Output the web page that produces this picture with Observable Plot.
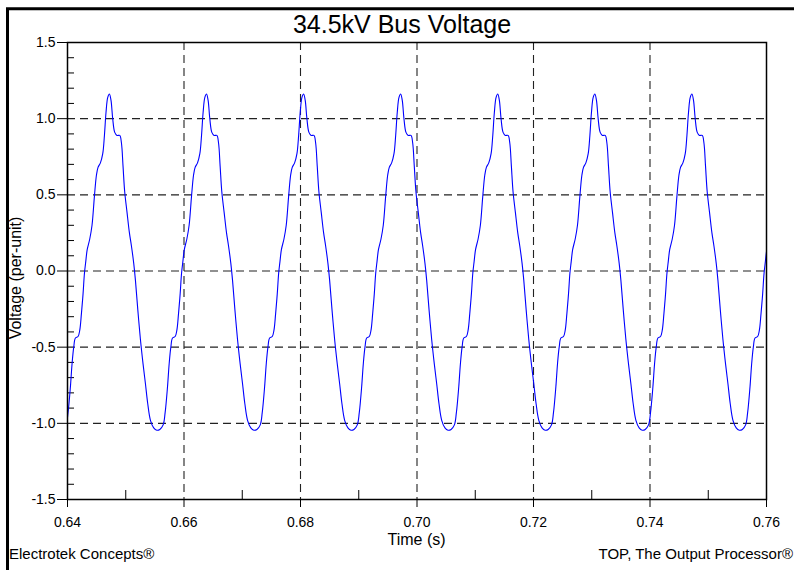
<!DOCTYPE html>
<html>
<head>
<meta charset="utf-8">
<script src="https://cdn.jsdelivr.net/npm/d3@7"></script>
<script src="https://cdn.jsdelivr.net/npm/@observablehq/plot@0.6"></script>
<style>
  html, body { margin: 0; padding: 0; background: #fff; overflow: hidden; }
  #chart { position: relative; width: 794px; height: 570px; }
</style>
</head>
<body>
<div id="chart"></div>
<script>
// ---- Data ----
// Times (s) of the successive waveform minima (60 Hz cycles)
const cycleStartTimes = [0.63918, 0.65585, 0.67252, 0.68918, 0.70585, 0.72252, 0.73918, 0.75585];
// One cycle of the distorted waveform: time after the minimum (ms) and voltage (per-unit)
const phaseMs = [0, 0.57, 0.91, 1.32, 1.60, 1.89, 2.18, 2.63, 2.92, 3.21,
                 3.49, 3.73, 3.95, 4.20, 4.64, 5.03, 5.44, 5.79, 6.06, 6.47,
                 6.87, 7.16, 7.43, 7.73, 8.02, 8.29, 8.58, 8.93, 9.32, 9.79,
                 10.08, 10.35, 10.64, 11.04, 11.45, 11.79, 12.19, 12.48, 12.88, 13.34,
                 13.79, 14.20, 14.59, 15.06, 15.62, 16.15];
const voltagePU = [-1.04, -1.01, -0.93, -0.76, -0.61, -0.50, -0.44, -0.43, -0.39, -0.28,
                   -0.15, -0.015, 0.06, 0.14, 0.21, 0.30, 0.49, 0.63, 0.68, 0.71,
                   0.77, 0.89, 1.04, 1.14, 1.162, 1.12, 1.00, 0.91, 0.89, 0.89,
                   0.84, 0.69, 0.52, 0.385, 0.25, 0.166, 0.05, -0.06, -0.25, -0.45,
                   -0.61, -0.74, -0.87, -0.98, -1.03, -1.045];

const xTicks = [0.64, 0.66, 0.68, 0.70, 0.72, 0.74, 0.76];
const xTickLabels = ["0.64", "0.66", "0.68", "0.70", "0.72", "0.74", "0.76"];
const xMinor = [0.65, 0.67, 0.69, 0.71, 0.73, 0.75];
const xGrid = [0.66, 0.68, 0.70, 0.72, 0.74];
const yTicks = [-1.5, -1.0, -0.5, 0, 0.5, 1.0, 1.5];
const yTickLabels = ["-1.5", "-1.0", "-0.5", "0.0", "0.5", "1.0", "1.5"];
const yMinor = [-1.4, -1.3, -1.2, -1.1, -0.9, -0.8, -0.7, -0.6, -0.4, -0.3, -0.2, -0.1,
                0.1, 0.2, 0.3, 0.4, 0.6, 0.7, 0.8, 0.9, 1.1, 1.2, 1.3, 1.4];
const yGrid = [-1.0, -0.5, 0, 0.5, 1.0];

const titleText = "34.5kV Bus Voltage";
const xLabel = "Time (s)";
const yLabel = "Voltage (per-unit)";
const footLeft = "Electrotek Concepts®";
const footRight = "TOP, The Output Processor®";

// Table built from the arrays
const series = [];
cycleStartTimes.forEach(t0 => {
  phaseMs.forEach((p, i) => series.push({t: t0 + p / 1000, v: voltagePU[i]}));
});

const W = 794, H = 570;
const mL = 67, mR = 28, mT = 42, mB = 71;
const plotW = W - mL - mR, plotH = H - mT - mB;
const font = "'Liberation Sans', Arial, Helvetica, sans-serif";

const chart = Plot.plot({
  width: W,
  height: H,
  marginLeft: mL,
  marginRight: mR,
  marginTop: mT,
  marginBottom: mB,
  style: {fontFamily: font, fontSize: "14px", color: "#000", background: "#fff"},
  x: {domain: [0.64, 0.76]},
  y: {domain: [-1.5, 1.5]},
  marks: [
    Plot.ruleX(xGrid, {x: d => d, stroke: "#222", strokeWidth: 1.1, strokeDasharray: "8,5"}),
    Plot.ruleY(yGrid, {y: d => d, stroke: "#222", strokeWidth: 1.1, strokeDasharray: "8,5"}),
    Plot.ruleY(yMinor, {y: d => d, insetRight: plotW - 7, stroke: "#000", strokeWidth: 1}),
    Plot.ruleX(xMinor, {x: d => d, insetTop: plotH - 9, stroke: "#000", strokeWidth: 1}),
    Plot.line(series, {x: "t", y: "v", stroke: "#0000ff", strokeWidth: 1.1, curve: "catmull-rom", clip: true}),
    Plot.frame({stroke: "#000", strokeWidth: 1.5}),
    Plot.axisX({ticks: xTicks, tickFormat: d => xTickLabels[xTicks.indexOf(d)], tickSize: 8, tickPadding: 10, fontSize: 14, label: null, stroke: "#000"}),
    Plot.axisY({ticks: yTicks, tickFormat: d => yTickLabels[yTicks.indexOf(d)], tickSize: 10, tickPadding: 2, fontSize: 14, label: null, stroke: "#000"})
  ]
});

document.getElementById("chart").appendChild(chart);

const svg = d3.select(chart);
// outer frame (left and top edges visible)
svg.append("path").attr("d", "M7.5,570 L7.5,8.75 L794,8.75")
  .attr("fill", "none").attr("stroke", "#000").attr("stroke-width", 3);

svg.append("text").attr("x", 402).attr("y", 33).attr("text-anchor", "middle")
  .style("font-family", font).style("font-size", "25px").attr("fill", "#000").text(titleText);
svg.append("text").attr("x", mL + plotW / 2).attr("y", 545).attr("text-anchor", "middle")
  .style("font-family", font).style("font-size", "16px").attr("fill", "#000").text(xLabel);
svg.append("text").attr("transform", "translate(21,278) rotate(-90)").attr("text-anchor", "middle")
  .style("font-family", font).style("font-size", "16px").attr("fill", "#000").text(yLabel);
svg.append("text").attr("x", 9).attr("y", 559).attr("text-anchor", "start")
  .style("font-family", font).style("font-size", "15px").attr("fill", "#000").text(footLeft);
svg.append("text").attr("x", 793).attr("y", 559).attr("text-anchor", "end")
  .style("font-family", font).style("font-size", "15px").attr("fill", "#000").text(footRight);
</script>
</body>
</html>
